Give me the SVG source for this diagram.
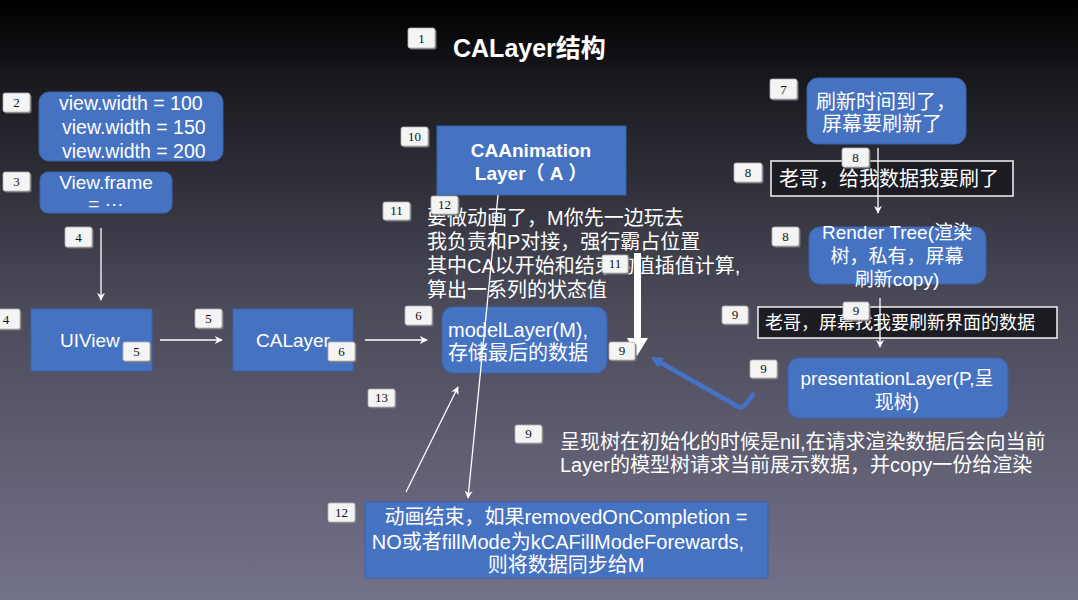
<svg xmlns="http://www.w3.org/2000/svg" width="1078" height="600" viewBox="0 0 1078 600">
<defs>
<linearGradient id="bg" x1="0" y1="0" x2="0" y2="1">
<stop offset="0" stop-color="#000000"/>
<stop offset="0.15" stop-color="#1b1b21"/>
<stop offset="0.5" stop-color="#4a4958"/>
<stop offset="1" stop-color="#73728b"/>
</linearGradient>
<marker id="ah" viewBox="0 0 10 10" refX="9" refY="5" markerWidth="8" markerHeight="8" markerUnits="userSpaceOnUse" orient="auto">
<path d="M0,0 L10,5 L0,10 L3,5 z" fill="#ffffff"/>
</marker>
<marker id="bh" viewBox="0 0 10 10" refX="5" refY="5" markerWidth="2.6" markerHeight="2.6" orient="auto">
<path d="M0,0 L10,5 L0,10 z" fill="#4472c4"/>
</marker>
<style>
.t{font-family:"Liberation Sans","Noto Sans CJK SC",sans-serif;fill:#ffffff}
.box{fill:#4672c2;stroke:#3b62ad;stroke-width:1}
.obox{fill:#1c1c22;stroke:#e8e8e8;stroke-width:1.6}
.bd rect.s{fill:#777}
.bd rect.f{fill:#f4f4f4;stroke:#b0b0b0;stroke-width:0.8}
.bd text{font-family:"Liberation Serif",serif;font-size:13px;fill:#111;text-anchor:middle}
.ln{stroke:#ffffff;stroke-width:1.3;fill:none}
</style>
</defs>
<rect x="0" y="0" width="1078" height="600" fill="url(#bg)"/>

<g id="title"><text class="t" x="453" y="57" font-size="25" font-weight="bold">CALayer结构</text></g>

<g id="node-widths">
<rect class="box" x="39" y="92" width="184" height="69" rx="10"/>
<text class="t" font-size="19.5" x="59" y="110">view.width = 100</text>
<text class="t" font-size="19.5" x="62" y="134">view.width = 150</text>
<text class="t" font-size="19.5" x="62" y="158">view.width = 200</text>
</g>
<g id="node-frame">
<rect class="box" x="40" y="172" width="132" height="41" rx="8"/>
<text class="t" font-size="19" x="106" y="189" text-anchor="middle">View.frame</text>
<text class="t" font-size="19" x="106" y="210" text-anchor="middle">= ···</text>
</g>
<g id="node-uiview">
<rect class="box" x="31" y="309" width="121" height="62"/>
<text class="t" font-size="19" x="60" y="347">UIView</text>
</g>
<g id="node-calayer">
<rect class="box" x="233" y="309" width="120" height="62"/>
<text class="t" font-size="19" x="256" y="347">CALayer</text>
</g>
<g id="node-anim">
<rect class="box" x="437" y="126" width="189" height="69"/>
<text class="t" font-size="19" font-weight="bold" x="531" y="157" text-anchor="middle">CAAnimation</text>
<text class="t" font-size="19" font-weight="bold" x="531" y="180" text-anchor="middle">Layer（ A ）</text>
</g>
<g id="node-model">
<rect class="box" x="442" y="307" width="165" height="66" rx="11"/>
<text class="t" font-size="20" x="448" y="337">modelLayer(M),</text>
<text class="t" font-size="20" x="448" y="360">存储最后的数据</text>
</g>
<g id="node-refresh">
<rect class="box" x="807" y="78" width="159" height="66" rx="11"/>
<text class="t" font-size="20" x="886" y="109" text-anchor="middle">刷新时间到了，</text>
<text class="t" font-size="20" x="882" y="131" text-anchor="middle">屏幕要刷新了</text>
</g>
<g id="node-give">
<rect class="obox" x="771" y="161" width="242" height="35"/>
<text class="t" font-size="20" x="779" y="186">老哥，给我数据我要刷了</text>
</g>
<g id="node-render">
<rect class="box" x="809" y="227" width="177" height="57" rx="11"/>
<text class="t" font-size="19" x="897" y="239" text-anchor="middle">Render Tree(渲染</text>
<text class="t" font-size="19" x="897" y="263" text-anchor="middle">树，私有，屏幕</text>
<text class="t" font-size="19" x="897" y="286" text-anchor="middle">刷新copy)</text>
</g>
<g id="node-screen">
<rect class="obox" x="758" y="307" width="299" height="31"/>
<text class="t" font-size="18" x="765" y="329">老哥，屏幕找我要刷新界面的数据</text>
</g>
<g id="node-presentation">
<rect class="box" x="788" y="358" width="220" height="60" rx="11"/>
<text class="t" font-size="19" x="897" y="385" text-anchor="middle">presentationLayer(P,呈</text>
<text class="t" font-size="19" x="897" y="409" text-anchor="middle">现树)</text>
</g>
<g id="node-note">
<text class="t" font-size="20" x="560" y="449">呈现树在初始化的时候是nil,在请求渲染数据后会向当前</text>
<text class="t" font-size="20" x="560" y="472">Layer的模型树请求当前展示数据，并copy一份给渲染</text>
</g>
<g id="node-end">
<rect class="box" x="365" y="502" width="403" height="76"/>
<text class="t" font-size="20" x="566" y="524" text-anchor="middle">动画结束，如果removedOnCompletion =</text>
<text class="t" font-size="20" x="558" y="549" text-anchor="middle">NO或者fillMode为kCAFillModeForewards,</text>
<text class="t" font-size="20" x="566" y="572" text-anchor="middle">则将数据同步给M</text>
</g>
<g id="node-explain">
<text class="t" font-size="20" x="427" y="225">要做动画了，M你先一边玩去</text>
<text class="t" font-size="20" x="427" y="249">我负责和P对接，强行霸占位置</text>
<text class="t" font-size="20" x="427" y="273">其中CA以开始和结束的值插值计算,</text>
<text class="t" font-size="20" x="427" y="297">算出一系列的状态值</text>
</g>

<g id="connectors">
<line class="ln" x1="101" y1="228" x2="101" y2="300" marker-end="url(#ah)"/>
<line class="ln" x1="160" y1="340" x2="222" y2="340" marker-end="url(#ah)"/>
<line class="ln" x1="365" y1="340" x2="427" y2="340" marker-end="url(#ah)"/>
<line class="ln" x1="498" y1="195" x2="468" y2="498" marker-end="url(#ah)"/>
<line class="ln" x1="406" y1="492" x2="458" y2="387" marker-end="url(#ah)"/>
<line class="ln" x1="878" y1="148" x2="878" y2="213" marker-end="url(#ah)"/>
<line class="ln" x1="880" y1="298" x2="880" y2="347" marker-end="url(#ah)"/>
<path d="M634,253 L641,253 L641,338 L648,338 L637,356 L627,338 L634,338 z" fill="#ffffff"/>
<path d="M753,395 L745,405 Q742,409 737,406 L656,360" fill="none" stroke="#4472c4" stroke-width="4.5" stroke-linecap="round" stroke-linejoin="round" marker-end="url(#bh)"/>
</g>

<g id="badges">
<g class="bd" id="b1"><rect class="s" x="409.5" y="29.5" width="27" height="20" rx="2"/><rect class="f" x="408" y="28" width="27" height="20" rx="2"/><text x="421.5" y="43">1</text></g>
<g class="bd" id="b2"><rect class="s" x="4.5" y="94.5" width="27" height="19" rx="2"/><rect class="f" x="3" y="93" width="27" height="19" rx="2"/><text x="16.5" y="107">2</text></g>
<g class="bd" id="b3"><rect class="s" x="4.5" y="173.5" width="27" height="19" rx="2"/><rect class="f" x="3" y="172" width="27" height="19" rx="2"/><text x="16.5" y="186">3</text></g>
<g class="bd" id="b4a"><rect class="s" x="66.5" y="228.5" width="27" height="20" rx="2"/><rect class="f" x="65" y="227" width="27" height="20" rx="2"/><text x="78.5" y="242">4</text></g>
<g class="bd" id="b4b"><rect class="s" x="-5.5" y="310.5" width="27" height="20" rx="2"/><rect class="f" x="-7" y="309" width="27" height="20" rx="2"/><text x="6" y="324">4</text></g>
<g class="bd" id="b5a"><rect class="s" x="124.5" y="343.5" width="27" height="19" rx="2"/><rect class="f" x="123" y="342" width="27" height="19" rx="2"/><text x="136.5" y="356">5</text></g>
<g class="bd" id="b5b"><rect class="s" x="196.5" y="310.5" width="27" height="19" rx="2"/><rect class="f" x="195" y="309" width="27" height="19" rx="2"/><text x="208.5" y="323">5</text></g>
<g class="bd" id="b6a"><rect class="s" x="329.5" y="343.5" width="27" height="19" rx="2"/><rect class="f" x="328" y="342" width="27" height="19" rx="2"/><text x="341.5" y="356">6</text></g>
<g class="bd" id="b6b"><rect class="s" x="406.5" y="307.5" width="27" height="19" rx="2"/><rect class="f" x="405" y="306" width="27" height="19" rx="2"/><text x="418.5" y="320">6</text></g>
<g class="bd" id="b7"><rect class="s" x="771.5" y="80.5" width="27" height="20" rx="2"/><rect class="f" x="770" y="79" width="27" height="20" rx="2"/><text x="783.5" y="94">7</text></g>
<g class="bd" id="b8a"><rect class="s" x="843.5" y="149.5" width="27" height="19" rx="2"/><rect class="f" x="842" y="148" width="27" height="19" rx="2"/><text x="855.5" y="162">8</text></g>
<g class="bd" id="b8b"><rect class="s" x="735.5" y="164.5" width="28" height="19" rx="2"/><rect class="f" x="734" y="163" width="28" height="19" rx="2"/><text x="748" y="177">8</text></g>
<g class="bd" id="b8c"><rect class="s" x="773.5" y="228.5" width="27" height="19" rx="2"/><rect class="f" x="772" y="227" width="27" height="19" rx="2"/><text x="785.5" y="241">8</text></g>
<g class="bd" id="b9a"><rect class="s" x="610.5" y="343.5" width="26" height="18" rx="2"/><rect class="f" x="609" y="342" width="26" height="18" rx="2"/><text x="622" y="355">9</text></g>
<g class="bd" id="b9b"><rect class="s" x="844.5" y="303.5" width="26" height="18" rx="2"/><rect class="f" x="843" y="302" width="26" height="18" rx="2"/><text x="856" y="315">9</text></g>
<g class="bd" id="b9c"><rect class="s" x="723.5" y="307.5" width="26" height="18" rx="2"/><rect class="f" x="722" y="306" width="26" height="18" rx="2"/><text x="735" y="319">9</text></g>
<g class="bd" id="b9d"><rect class="s" x="751.5" y="361.5" width="27" height="18" rx="2"/><rect class="f" x="750" y="360" width="27" height="18" rx="2"/><text x="763.5" y="373">9</text></g>
<g class="bd" id="b9e"><rect class="s" x="516.5" y="426.5" width="27" height="18" rx="2"/><rect class="f" x="515" y="425" width="27" height="18" rx="2"/><text x="528.5" y="438">9</text></g>
<g class="bd" id="b10"><rect class="s" x="402.5" y="128.5" width="27" height="19" rx="2"/><rect class="f" x="401" y="127" width="27" height="19" rx="2"/><text x="414.5" y="141">10</text></g>
<g class="bd" id="b11a"><rect class="s" x="384.5" y="203.5" width="27" height="18" rx="2"/><rect class="f" x="383" y="202" width="27" height="18" rx="2"/><text x="396.5" y="215">11</text></g>
<g class="bd" id="b11b"><rect class="s" x="603.5" y="256.5" width="26" height="18" rx="2"/><rect class="f" x="602" y="255" width="26" height="18" rx="2"/><text x="615" y="268">11</text></g>
<g class="bd" id="b12a"><rect class="s" x="432.5" y="197.5" width="27" height="18" rx="2"/><rect class="f" x="431" y="196" width="27" height="18" rx="2"/><text x="444.5" y="209">12</text></g>
<g class="bd" id="b12b"><rect class="s" x="329.5" y="504.5" width="27" height="19" rx="2"/><rect class="f" x="328" y="503" width="27" height="19" rx="2"/><text x="341.5" y="517">12</text></g>
<g class="bd" id="b13"><rect class="s" x="369.5" y="390.5" width="27" height="18" rx="2"/><rect class="f" x="368" y="389" width="27" height="18" rx="2"/><text x="381.5" y="402">13</text></g>
</g>
</svg>
